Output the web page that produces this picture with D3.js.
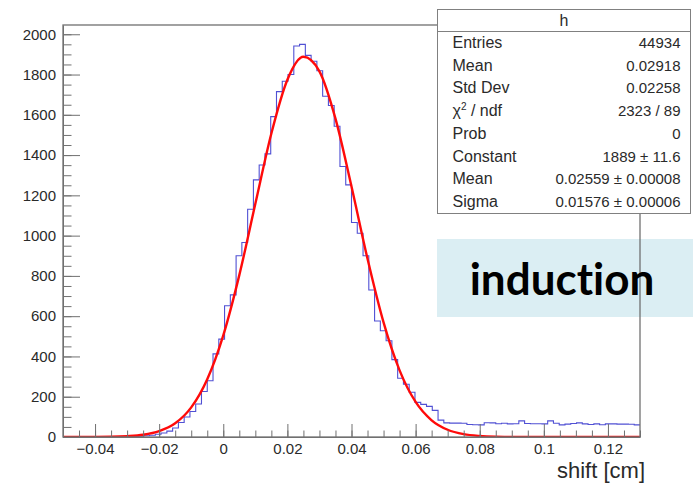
<!DOCTYPE html>
<html>
<head>
<meta charset="utf-8">
<script src="https://cdn.jsdelivr.net/npm/d3@7"></script>
<style>
	body { margin: 0; background: #fff; }
	svg text { font-family: "Liberation Sans", Arial, sans-serif; fill: #2a2a2a; }
	.axis path, .axis line { stroke: #707070; }
</style>
</head>
<body>
<div id="chart"></div>
<script>
// histogram h : 100 bins between xRange[0] and xRange[1]
var xRange = [-0.05, 0.13];
var yRange = [0, 2046];

var binCounts = [
	0, 0, 0, 0, 0, 0, 0, 0, 0, 1,
	1, 2, 2, 4, 6, 9, 14, 20, 29, 45,
	72, 99, 127, 164, 226, 279, 413, 486, 652, 706,
	900, 966, 1131, 1277, 1351, 1406, 1591, 1715, 1767, 1800,
	1942, 1950, 1895, 1866, 1819, 1692, 1646, 1543, 1343, 1252,
	1065, 1012, 900, 730, 576, 528, 478, 384, 292, 262,
	222, 172, 162, 152, 132, 84, 70, 69, 69, 68,
	62, 61, 60, 71, 70, 66, 68, 65, 66, 80,
	67, 66, 66, 65, 80, 68, 60, 64, 67, 70,
	65, 62, 65, 61, 65, 65, 64, 64, 63, 60
];

// gaus fit
var fitX = [-0.05, -0.045, -0.04, -0.035, -0.03, -0.025, -0.02, -0.015, -0.01, -0.005,
	0, 0.005, 0.01, 0.015, 0.02, 0.025, 0.03, 0.035, 0.04, 0.045,
	0.05, 0.055, 0.06, 0.065, 0.07, 0.075, 0.08, 0.085, 0.09, 0.095,
	0.1, 0.105, 0.11, 0.115, 0.12, 0.125, 0.13];
var fitY = [0, 0, 0.3, 1, 4, 11, 29, 68, 147, 287,
	505, 804, 1158, 1507, 1774, 1888, 1816, 1581, 1244, 885,
	569, 331, 174, 83, 36, 14, 5, 1.5, 0.5, 0,
	0, 0, 0, 0, 0, 0, 0];

var xTickValues = [-0.04, -0.02, 0, 0.02, 0.04, 0.06, 0.08, 0.1, 0.12];
var xTickLabels = ['\u22120.04', '\u22120.02', '0', '0.02', '0.04', '0.06', '0.08', '0.1', '0.12'];
var yTickValues = [0, 200, 400, 600, 800, 1000, 1200, 1400, 1600, 1800, 2000];

var histName = 'h';
var statNames = ['Entries', 'Mean', 'Std Dev', 'chi2', 'Prob', 'Constant', 'Mean', 'Sigma'];
var statValues = ['44934', '0.02918', '0.02258', '2323 / 89', '0', '1889 \u00b1 11.6', '0.02559 \u00b1 0.00008', '0.01576 \u00b1 0.00006'];

var xTitle = 'shift [cm]';
var noteText = 'induction';

var buildHistogram = function (el) {
	'use strict';

	function HistChart (el) {
		this.scales = this.setScales();
		this.svg    = this.buildSVG(el);

		this.addNoteBox();
		this.addHist();
		this.addFit();
		this.addXAxis();
		this.addYAxis();
		this.addFrame();
		this.addStats();
		this.addNoteText();
	}

	HistChart.prototype = {
		frame: {left: 63, top: 25, right: 640, bottom: 437},

		setScales: function () {
			return {
				x: d3.scaleLinear().domain(xRange).range([this.frame.left, this.frame.right]),
				y: d3.scaleLinear().domain(yRange).range([this.frame.bottom, this.frame.top])
			};
		},

		buildSVG: function (el) {
			var svg = d3.select(el).append('svg')
						.attr('width', 693)
						.attr('height', 483);
			svg.append('defs').append('clipPath')
					.attr('id', 'frameClip')
				.append('rect')
					.attr('x', this.frame.left)
					.attr('y', this.frame.top)
					.attr('width', this.frame.right - this.frame.left)
					.attr('height', this.frame.bottom - this.frame.top);
			return svg;
		},

		addNoteBox: function () {
			this.svg.append('rect')
					.attr('x', 437)
					.attr('y', 239)
					.attr('width', 256)
					.attr('height', 78)
					.attr('fill', '#dbeef3');
		},

		addHist: function () {
			var that = this,
				n = binCounts.length,
				w = (xRange[1] - xRange[0]) / n;
			var pts = binCounts.map(function (c, i) { return [xRange[0] + i * w, c]; });
			pts.push([xRange[1], binCounts[n - 1]]);

			var line = d3.line()
							.curve(d3.curveStepAfter)
							.x(function (d) { return that.scales.x(d[0]); })
							.y(function (d) { return that.scales.y(d[1]); });

			this.svg.append('path')
					.attr('clip-path', 'url(#frameClip)')
					.attr('d', line(pts))
					.attr('fill', 'none')
					.attr('stroke', '#5050d4')
					.attr('stroke-width', 1.1);
		},

		addFit: function () {
			var that = this;
			var line = d3.line()
							.curve(d3.curveMonotoneX)
							.x(function (d, i) { return that.scales.x(fitX[i]); })
							.y(function (d) { return that.scales.y(d); });

			this.svg.append('path')
					.attr('clip-path', 'url(#frameClip)')
					.attr('d', line(fitY))
					.attr('fill', 'none')
					.attr('stroke', '#ff0a0a')
					.attr('stroke-width', 2.4);
		},

		addXAxis: function () {
			var minor = d3.range(37).map(function (i) { return xRange[0] + i * 0.005; });
			var g = this.svg.append('g')
					.attr('class', 'axis axis--x')
					.attr('transform', 'translate(0,' + this.frame.bottom + ')');

			g.append('g')
				.call(d3.axisBottom(this.scales.x).tickValues(minor).tickSize(-6.5).tickFormat(''))
				.select('.domain').remove();

			g.append('g')
				.call(d3.axisBottom(this.scales.x)
					.tickValues(xTickValues)
					.tickFormat(function (d, i) { return xTickLabels[i]; })
					.tickSizeInner(-13)
					.tickSizeOuter(0)
					.tickPadding(6))
				.selectAll('text')
					.style('font-size', '15px');
		},

		addYAxis: function () {
			var minor = d3.range(41).map(function (i) { return i * 50; });
			var g = this.svg.append('g')
					.attr('class', 'axis axis--y')
					.attr('transform', 'translate(' + this.frame.left + ',0)');

			g.append('g')
				.call(d3.axisLeft(this.scales.y).tickValues(minor).tickSize(-8.5).tickFormat(''))
				.select('.domain').remove();

			g.append('g')
				.call(d3.axisLeft(this.scales.y)
					.tickValues(yTickValues)
					.tickFormat(d3.format('d'))
					.tickSizeInner(-17)
					.tickSizeOuter(0)
					.tickPadding(7))
				.selectAll('text')
					.style('font-size', '15px');

			this.svg.append('text')
					.attr('x', 645)
					.attr('y', 478)
					.attr('text-anchor', 'end')
					.style('font-size', '22px')
					.text(xTitle);
		},

		addFrame: function () {
			this.svg.append('rect')
					.attr('x', this.frame.left)
					.attr('y', this.frame.top)
					.attr('width', this.frame.right - this.frame.left)
					.attr('height', this.frame.bottom - this.frame.top)
					.attr('fill', 'none')
					.attr('stroke', '#707070')
					.attr('stroke-width', 1.3);
		},

		addStats: function () {
			var box = {x: 437.5, y: 9.5, w: 253, h: 204, head: 22};
			var g = this.svg.append('g').attr('class', 'stats');
			var rowH = (box.h - box.head) / statNames.length;

			g.append('rect')
				.attr('x', box.x).attr('y', box.y)
				.attr('width', box.w).attr('height', box.h)
				.attr('fill', '#fff')
				.attr('stroke', '#808080')
				.attr('stroke-width', 1);
			g.append('line')
				.attr('x1', box.x).attr('x2', box.x + box.w)
				.attr('y1', box.y + box.head).attr('y2', box.y + box.head)
				.attr('stroke', '#808080');
			g.append('text')
				.attr('x', box.x + box.w / 2)
				.attr('y', box.y + box.head / 2 + 5.5)
				.attr('text-anchor', 'middle')
				.style('font-size', '16px')
				.text(histName);

			statNames.forEach(function (name, i) {
				var cy = box.y + box.head + rowH * (i + 0.5) + 5;
				var t = g.append('text')
							.attr('x', box.x + 15)
							.attr('y', cy)
							.style('font-size', '16px');
				if (name === 'chi2') {
					t.append('tspan').text('\u03c7');
					t.append('tspan').attr('dy', -6).style('font-size', '10px').text('2');
					t.append('tspan').attr('dy', 6).text(' / ndf');
				} else {
					t.text(name);
				}
				g.append('text')
					.attr('x', box.x + box.w - 10)
					.attr('y', cy)
					.attr('text-anchor', 'end')
					.style('font-size', '15px')
					.text(statValues[i]);
			});
		},

		addNoteText: function () {
			this.svg.append('text')
					.attr('x', 562)
					.attr('y', 295)
					.attr('text-anchor', 'middle')
					.style('font-family', 'Lato, "Open Sans", sans-serif')
					.style('font-weight', 'bold')
					.style('font-size', '44px')
					.style('font-variant-ligatures', 'none')
					.style('fill', '#000')
					.text(noteText);
		}
	};

	return new HistChart(el);
};

buildHistogram('#chart');
</script>
</body>
</html>
